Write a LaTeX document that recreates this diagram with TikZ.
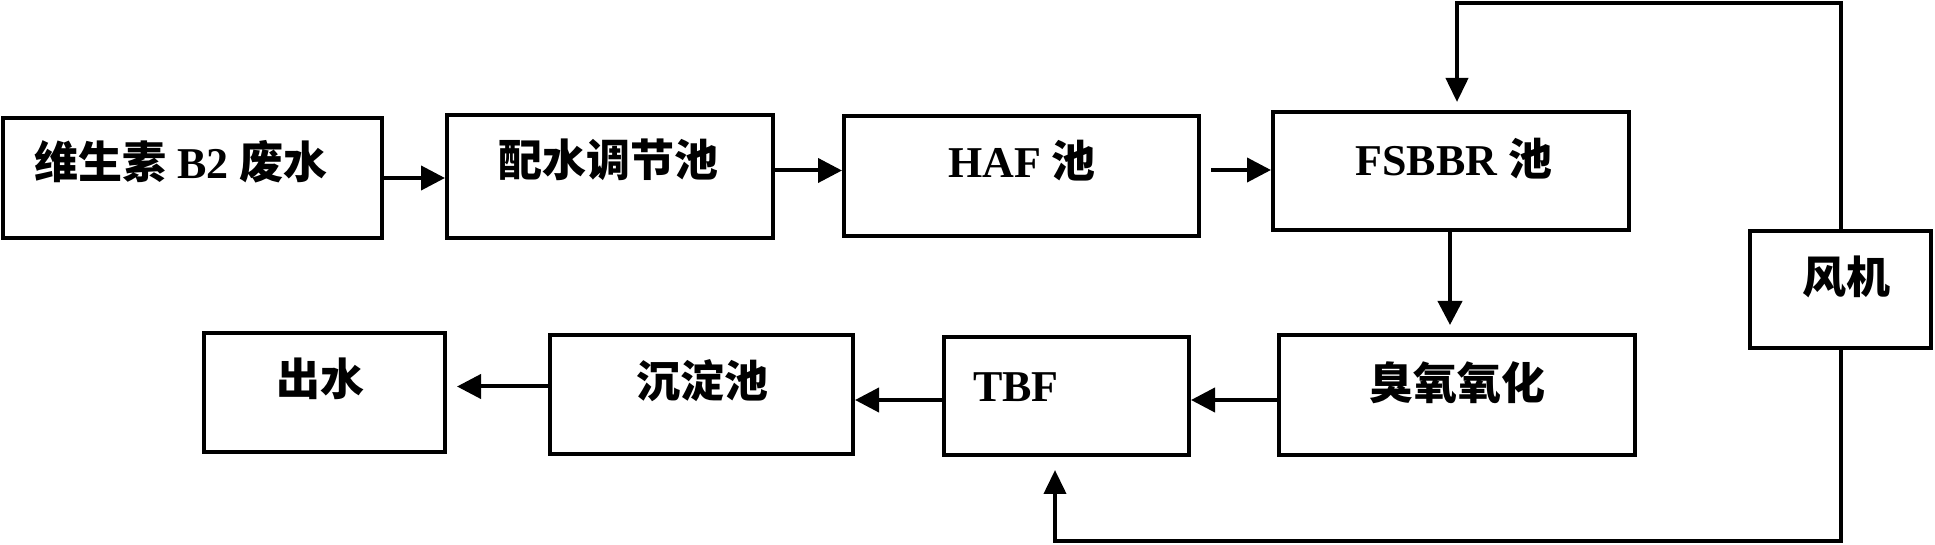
\documentclass[tikz,border=0pt]{standalone}
\usepackage{fontspec}
\setmainfont{Liberation Serif}
\newfontfamily\cjk{Noto Sans CJK SC}
\usetikzlibrary{arrows.meta,calc}
\newcommand\zh[1]{{\cjk\bfseries #1}}
\begin{document}
\begin{tikzpicture}[x=0.5pt,y=-0.5pt,
  box/.style={draw,line width=2pt,rectangle,inner sep=0pt},
  lbl/.style={anchor=base,inner sep=0pt,font=\fontsize{22}{26}\selectfont\bfseries},
  arr/.style={line width=2pt,-{Triangle[length=12pt,width=12pt]}},
  pipe/.style={line width=2pt,-{Triangle[length=12pt,width=11pt]}}]
\useasboundingbox (0,0) rectangle (1935,545);
% boxes
\node[box,minimum width=189.5pt,minimum height=60pt] (b1) at (192.5,178) {};
\node[box,minimum width=163pt,minimum height=61.5pt] (b2) at (610,176.5) {};
\node[box,minimum width=177.5pt,minimum height=60pt] (b3) at (1021.5,176) {};
\node[box,minimum width=178pt,minimum height=59pt] (b4) at (1451,171) {};
\node[box,minimum width=90.5pt,minimum height=58.5pt] (fan) at (1840.5,289.5) {};
\node[box,minimum width=178pt,minimum height=60pt] (oz) at (1457,395) {};
\node[box,minimum width=122.5pt,minimum height=59pt] (tbf) at (1066.5,396) {};
\node[box,minimum width=151.5pt,minimum height=59.5pt] (sed) at (701.5,394.5) {};
\node[box,minimum width=120.5pt,minimum height=59.5pt] (out) at (324.5,392.5) {};
% labels
\node[lbl] (t1) at (181,179) {\zh{维生素} B2 \zh{废水}};
\node[lbl] (t2) at (608,177) {\zh{配水调节池}};
\node[lbl] (t3) at (1022,178) {HAF \zh{池}};
\node[lbl] (t4) at (1454,176) {FSBBR \zh{池}};
\node[lbl] (t5) at (1846,294) {\zh{风机}};
\node[lbl] (t6) at (1457,400) {\zh{臭氧氧化}};
\node[lbl] (t7) at (1016,402) {TBF};
\node[lbl] (t8) at (702,398) {\zh{沉淀池}};
\node[lbl] (t9) at (320,396) {\zh{出水}};
% helper coordinates
\coordinate (a12) at (b1.east);
\coordinate (a23) at ($(b2.east)+(0,3pt)$);
\coordinate (a34) at ($(b3.east)+(0,3pt)$);
\coordinate (a5) at ($(oz.west)+(0,-2.5pt)$);
\coordinate (a6) at ($(tbf.west)+(0,-2pt)$);
\coordinate (a7) at ($(sed.west)+(0,4pt)$);
\coordinate (d4) at ($(b4.south)+(-0.5pt,0)$);
\coordinate (ptop) at ($(fan.north)+(0,113pt)$);
\coordinate (pbot) at ($(fan.south)+(0,-95.5pt)$);
\coordinate (tin) at ($(b4.north)+(3pt,0)$);
\coordinate (bin) at ($(tbf.south)+(-5.75pt,0)$);
% flow arrows
\draw[arr] (a12) -- (a12 -| b2.west);
\draw[arr] (a23) -- (a23 -| b3.west);
\draw[arr,shorten <=5pt] (a34) -- (a34 -| b4.west);
\draw[arr,shorten >=4pt] (d4) -- (d4 |- oz.north);
\draw[arr] (a5) -- (a5 -| tbf.east);
\draw[arr] (a6) -- (a6 -| sed.east);
\draw[arr,shorten >=5pt] (a7) -- (a7 -| out.east);
% air pipes
\draw[pipe,shorten >=4pt] (fan.north) -- (ptop) -| (tin);
\draw[pipe,shorten >=6.5pt] (fan.south) -- (pbot) -| (bin);
\end{tikzpicture}
\end{document}
